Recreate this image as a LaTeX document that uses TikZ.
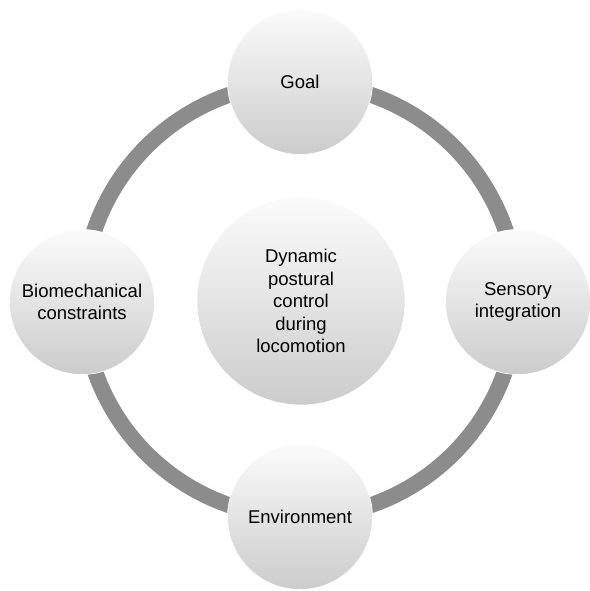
\documentclass[tikz,border=0pt]{standalone}
\usepackage{fontspec}
\setmainfont{Liberation Sans}
\begin{document}
\begin{tikzpicture}[x=1pt,y=-1pt,
  bubble/.style={circle, inner sep=0pt, minimum size=#1, shading=axis,
    top color=gray!3, bottom color=gray!40, draw=white, line width=0.6pt,
    align=center, font=\fontsize{18.5}{22.6}\selectfont, text=black},
  ring/.style={draw=gray!90, line width=16pt}]
\useasboundingbox (0,0) rectangle (589,591);
\draw[ring, draw={rgb,255:red,140;green,140;blue,140}] (300,300) circle[radius=217];
\node[bubble=208pt] (center) at (301,301) {Dynamic\\postural\\control\\during\\locomotion};
\node[bubble=145pt] (goal) at (300,82) {Goal};
\node[bubble=145pt] (bio) at (82,302) {Biomechanical\\constraints};
\node[bubble=145pt] (sens) at (518,302) {Sensory\\integration};
\node[bubble=145pt] (env) at (300,517) {Environment};
\end{tikzpicture}
\end{document}
